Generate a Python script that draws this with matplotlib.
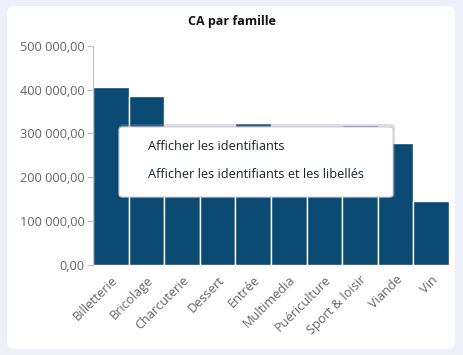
import matplotlib
matplotlib.use("Agg")
import matplotlib.pyplot as plt
from matplotlib.patches import FancyBboxPatch
from matplotlib.ticker import FuncFormatter

categories = ["Billetterie", "Bricolage", "Charcuterie", "Dessert", "Entrée",
              "Multimedia", "Puériculture", "Sport & loisir", "Viande", "Vin"]
values = [406000, 385000, 300000, 290000, 323000, 310000, 305000, 319000, 278000, 147000]
yticks = [0, 100000, 200000, 300000, 400000, 500000]
title = "CA par famille"
menu_items = ["Afficher les identifiants", "Afficher les identifiants et les libellés"]

plt.rcParams['font.family'] = ['Open Sans', 'DejaVu Sans']

W, H = 463, 355
fig = plt.figure(figsize=(W / 100, H / 100), dpi=100)
fig.patch.set_facecolor("#edf0f6")

# white card
card = FancyBboxPatch((7 / W, 6 / H), (455 - 7) / W, (349 - 6) / H,
                      boxstyle="round,pad=0,rounding_size=0.018",
                      transform=fig.transFigure, facecolor="white",
                      edgecolor="none", zorder=-10)
fig.patches.append(card)

ax = fig.add_axes([93 / W, 90 / H, (449 - 93) / W, (265 - 45.7) / H])
ax.set_facecolor("none")
ax.set_zorder(1)
x = list(range(len(categories)))
ax.bar(x, values, width=1.0, color="#0b4a72", edgecolor="white", linewidth=1.0)
ax.set_xlim(-0.5, len(categories) - 0.5)
ax.set_ylim(0, 500000)
ax.set_yticks(yticks)

def fmt(v, pos):
    s = f"{v:,.2f}"
    return s.replace(",", " ").replace(".", ",")

ax.yaxis.set_major_formatter(FuncFormatter(fmt))
ax.set_xticks(x)
ax.set_xticklabels(categories, rotation=45, ha="right", rotation_mode="anchor")
ax.tick_params(axis="y", colors="#c0c0c0", labelcolor="#666666", labelsize=9.2,
               length=4, width=0.8, pad=2)
ax.tick_params(axis="x", length=0, labelcolor="#666666", labelsize=9.2, pad=6)
for s in ["top", "right", "bottom"]:
    ax.spines[s].set_visible(False)
ax.spines["left"].set_color("#c0c0c0")
ax.spines["left"].set_linewidth(0.8)

fig.text(232 / W, 1 - 22 / H, title, ha="center", va="center",
         fontsize=9, fontweight="bold", color="#111111")

# context menu overlay
shadow = FancyBboxPatch((119 / W, 1 - 198 / H), (395 - 119) / W, (198 - 124) / H,
                        boxstyle="round,pad=0,rounding_size=0.008",
                        transform=fig.transFigure, facecolor="#8a8fa8",
                        edgecolor="none", alpha=0.3, zorder=5)
fig.patches.append(shadow)
menu = FancyBboxPatch((119 / W, 1 - 197 / H), (393 - 119) / W, (197 - 127) / H,
                      boxstyle="round,pad=0,rounding_size=0.008",
                      transform=fig.transFigure, facecolor="white",
                      edgecolor="#cfd0d8", linewidth=0.8, zorder=6)
fig.patches.append(menu)
fig.text(148 / W, 1 - 146 / H, menu_items[0], ha="left", va="center",
         fontsize=9.2, color="#1c2433", zorder=7)
fig.text(148 / W, 1 - 174 / H, menu_items[1], ha="left", va="center",
         fontsize=9.2, color="#1c2433", zorder=7)

fig.savefig("out.png", dpi=100, facecolor=fig.get_facecolor())
